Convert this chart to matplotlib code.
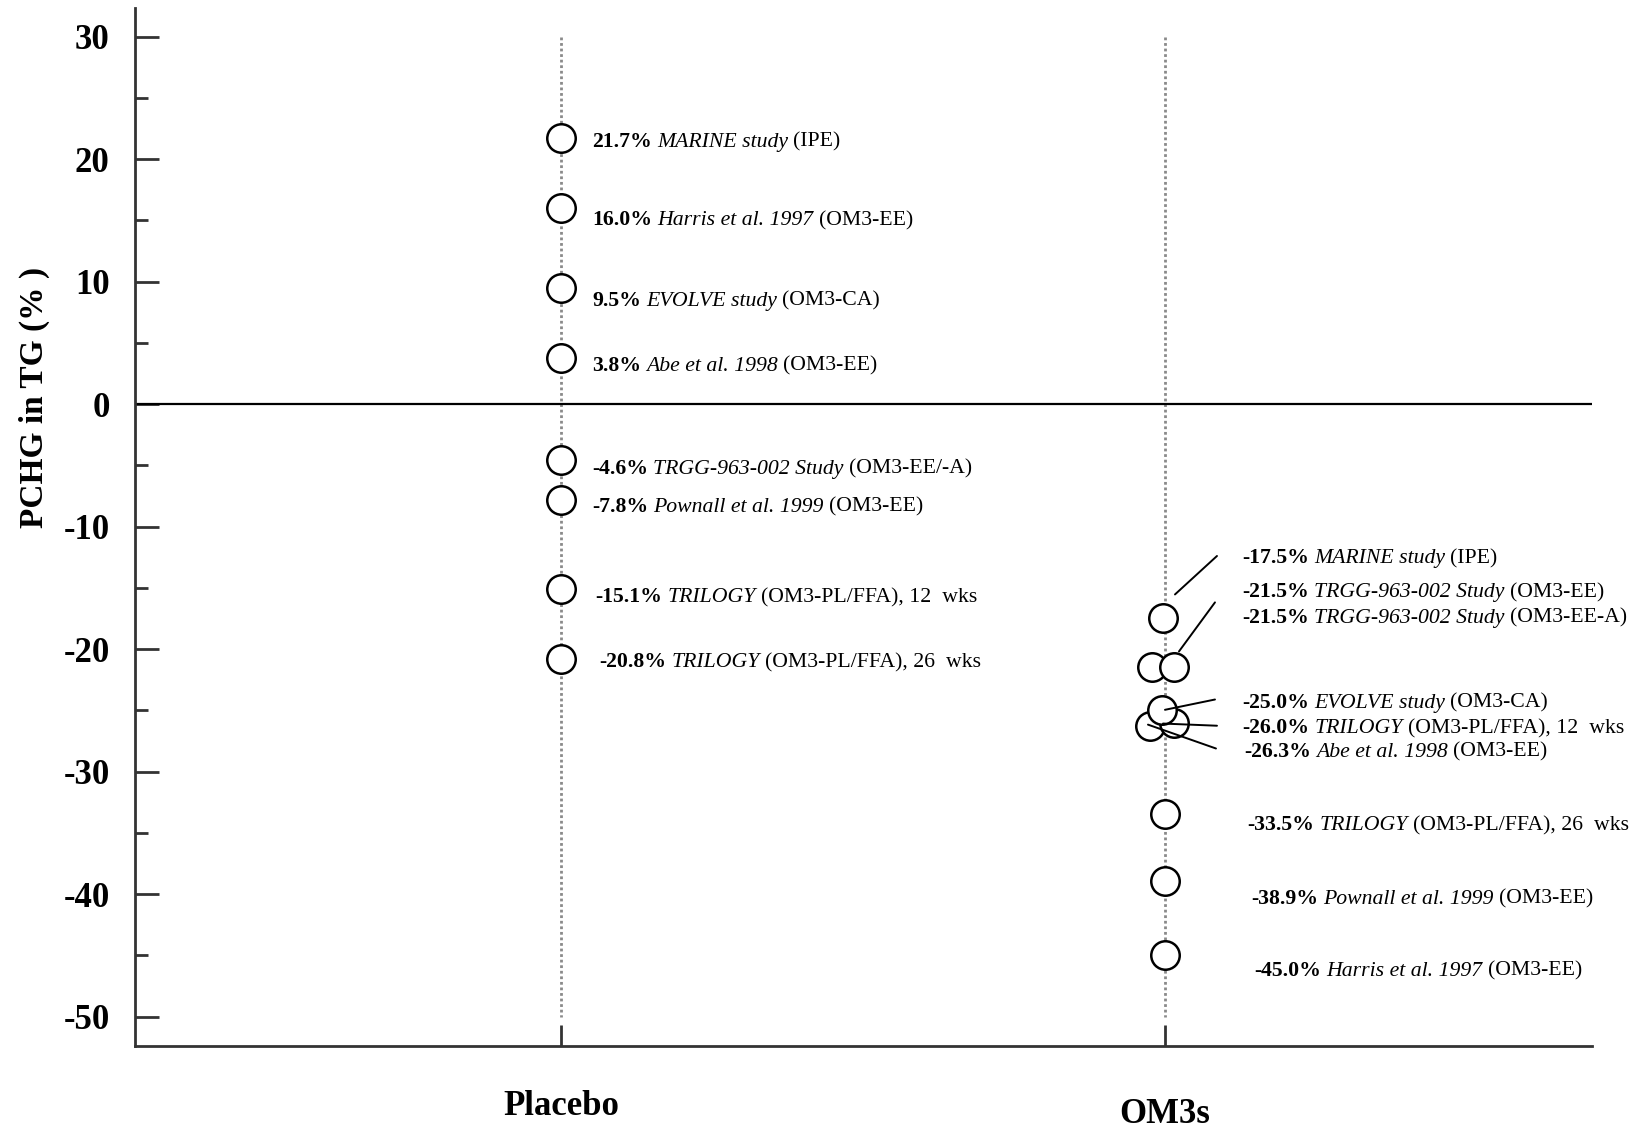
import matplotlib
matplotlib.use("Agg")
import matplotlib.pyplot as plt
import numpy as np
from matplotlib.transforms import ScaledTranslation, blended_transform_factory

plt.rcParams['font.family'] = ['Liberation Serif', 'DejaVu Serif']

# ---------------- data ----------------
categories = ['Placebo', 'OM3s']

placebo_values = [21.7, 16.0, 9.5, 3.8, -4.6, -7.8, -15.1, -20.8]
placebo_studies = ['MARINE study', 'Harris et al. 1997', 'EVOLVE study', 'Abe et al. 1998',
                   'TRGG-963-002 Study', 'Pownall et al. 1999', 'TRILOGY', 'TRILOGY']
placebo_notes = ['(IPE)', '(OM3-EE)', '(OM3-CA)', '(OM3-EE)', '(OM3-EE/-A)', '(OM3-EE)',
                 '(OM3-PL/FFA), 12  wks', '(OM3-PL/FFA), 26  wks']

om3_values = [-17.5, -21.5, -21.5, -25.0, -26.0, -26.3, -33.5, -38.9, -45.0]
om3_studies = ['MARINE study', 'TRGG-963-002 Study', 'TRGG-963-002 Study', 'EVOLVE study',
               'TRILOGY', 'Abe et al. 1998', 'TRILOGY', 'Pownall et al. 1999', 'Harris et al. 1997']
om3_notes = ['(IPE)', '(OM3-EE)', '(OM3-EE-A)', '(OM3-CA)', '(OM3-PL/FFA), 12  wks',
             '(OM3-EE)', '(OM3-PL/FFA), 26  wks', '(OM3-EE)', '(OM3-EE)']

y_major = list(range(-50, 31, 10))
y_minor = list(range(-45, 26, 10))
y_label = 'PCHG in TG (% )'

# ---------------- layout ----------------
FS = 15.7          # annotation font size
GAP = 3.8          # gap (pt) between rich-text pieces
DPI = 100
placebo_label_dx = [31, 31, 31, 31, 31, 31, 34, 38]           # px
placebo_label_y = [21.6, 15.2, 8.6, 3.3, -5.1, -8.2, -15.6, -20.9]
om3_label_dx = [77, 77, 77, 77, 77, 79, 82, 86, 89]             # px
om3_jitter = [-2, -13, 9, -3, 9, -15, 0, 0, 0]                  # px
om3_zorder = [3, 3, 4, 6, 5, 4, 3, 3, 3]
om3_label_y = [-12.4, -15.2, -17.25, -24.2, -26.3, -28.2, -34.2, -40.2, -46.1]
# leaders: index, start offset from label anchor (px, up+), end offset from marker (px, up+)
leaders = [(0, (-25, 0), (12, 24)),
           (2, (-27, 13), (5, 16)),
           (3, (-27, 1), (3, 0.5)),
           (4, (-25, 0.5), (-11, -1)),
           (5, (-28, 1), (-2, 1.6))]

fig = plt.figure(figsize=(16.35, 11.29), dpi=DPI)
ax = fig.add_axes([0.0823, 0.0735, 0.8914, 0.9194])
ax.set_xlim(0.294, 2.707)
ax.set_ylim(-52.41, 32.34)

axis_col = '#333333'
for s in ['top', 'right']:
    ax.spines[s].set_visible(False)
for s in ['left', 'bottom']:
    ax.spines[s].set_linewidth(2)
    ax.spines[s].set_color(axis_col)

ax.set_yticks(y_major, labels=[str(v) for v in y_major], fontsize=25, fontweight='bold')
ax.set_yticks(y_minor, minor=True)
ax.tick_params(axis='y', which='major', direction='in', length=17, width=2,
               color=axis_col, pad=18)
ax.tick_params(axis='y', which='minor', direction='in', length=9.5, width=2, color=axis_col)

xpos = [1, 2]
ax.set_xticks(xpos, labels=['', ''])
ax.tick_params(axis='x', which='major', direction='in', length=15, width=2, color=axis_col)
blend = blended_transform_factory(ax.transData, ax.transAxes)
cat_label_y = [-0.0585, -0.0655]
for x, name, yy in zip(xpos, categories, cat_label_y):
    ax.text(x, yy, name, transform=blend, ha='center', va='center',
            fontsize=25, fontweight='bold', clip_on=False)

ax.set_ylabel(y_label, fontsize=24, fontweight='bold', va='center')
ax.yaxis.set_label_coords(-0.0689, 0.625)

# zero line and dotted guides
ax.axhline(0, color='black', lw=1.6, zorder=2)
for x in xpos:
    ax.plot([x, x], [30, -50], ls=(0, (1, 1)), color='#8a8a8a', lw=2.0, zorder=1)


def px_trans(dx, dy):
    return ax.transData + ScaledTranslation(dx / DPI, dy / DPI, fig.dpi_scale_trans)


def rich_label(x, y, dx_px, value, study, note):
    base = -0.33 * FS
    pieces = [(f'{value:.1f}%', 'bold', 'normal'),
              (study, 'normal', 'italic'),
              (note, 'normal', 'normal')]
    prev = None
    for i, (txt, w, st) in enumerate(pieces):
        if i == 0:
            prev = ax.annotate(txt, xy=(x, y), xycoords='data',
                               xytext=(dx_px * 72 / DPI, base), textcoords='offset points',
                               ha='left', va='baseline', fontsize=FS, fontweight=w,
                               fontstyle=st, annotation_clip=False, zorder=7)
        else:
            prev = ax.annotate(txt, xy=(1, y), xycoords=(prev, 'data'),
                               xytext=(GAP, base), textcoords='offset points',
                               ha='left', va='baseline', fontsize=FS, fontweight=w,
                               fontstyle=st, annotation_clip=False, zorder=7)


marker_kw = dict(marker='o', ms=20.5, mew=1.8, mfc='white', mec='black', ls='none')

# placebo
for v, s, n, dx, ly in zip(placebo_values, placebo_studies, placebo_notes,
                           placebo_label_dx, placebo_label_y):
    ax.plot([xpos[0]], [v], zorder=3, **marker_kw)
    rich_label(xpos[0], ly, dx, v, s, n)

# OM3s
for i, (v, s, n) in enumerate(zip(om3_values, om3_studies, om3_notes)):
    ax.plot([xpos[1]], [v], zorder=om3_zorder[i], transform=px_trans(om3_jitter[i], 0), **marker_kw)
    rich_label(xpos[1], om3_label_y[i], om3_label_dx[i], v, s, n)

for idx, (sdx, sdy), (edx, edy) in leaders:
    ax.annotate('', xy=(xpos[1], om3_values[idx]),
                xycoords=px_trans(om3_jitter[idx] + edx, edy),
                xytext=(xpos[1], om3_label_y[idx]),
                textcoords=px_trans(om3_label_dx[idx] + sdx, sdy),
                arrowprops=dict(arrowstyle='-', color='black', lw=1.4,
                                shrinkA=0, shrinkB=0),
                annotation_clip=False, zorder=8)

fig.savefig('out.png', dpi=DPI)
